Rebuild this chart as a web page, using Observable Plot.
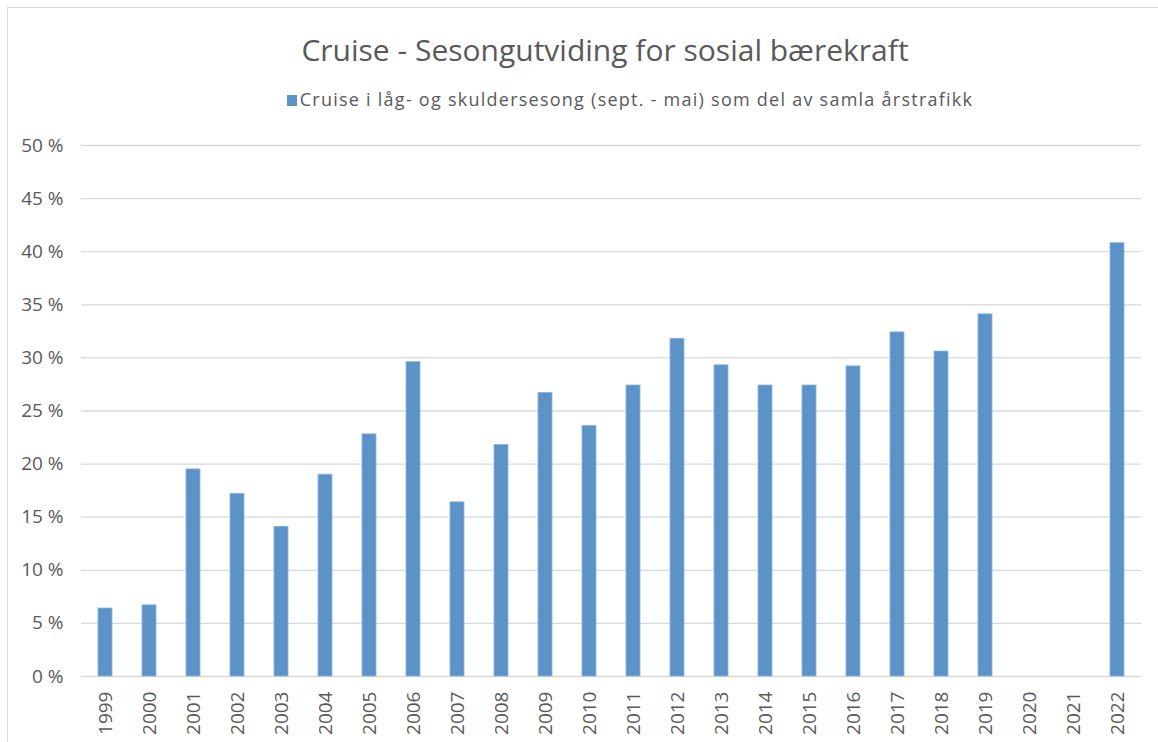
<!DOCTYPE html>
<html><head><meta charset="utf-8">
<script src="https://cdn.jsdelivr.net/npm/d3@7"></script>
<script src="https://cdn.jsdelivr.net/npm/@observablehq/plot@0.6"></script>
<style>
body{margin:0;background:#fff;font-family:"Open Sans",sans-serif;}
#wrap{position:relative;width:1158px;height:742px;overflow:hidden;background:#fff;}
#frame{position:absolute;left:7px;top:7px;width:1170px;height:760px;border-top:1px solid #d9d9d9;border-left:1px solid #d9d9d9;}
#title{position:absolute;top:29px;left:0;width:1210px;text-align:center;font-size:30px;color:#595959;white-space:nowrap;}
#legend{position:absolute;top:87px;left:0;width:1260px;text-align:center;font-size:18px;color:#595959;letter-spacing:1.25px;white-space:nowrap;}
#legend .sw{display:inline-block;width:10px;height:11px;background:#5b93c8;margin-right:3px;vertical-align:0px;}
#chart{position:absolute;left:0;top:120px;}
</style>
</head><body>
<div id="wrap">
<div id="frame"></div>
<div id="title">Cruise - Sesongutviding for sosial bærekraft</div>
<div id="legend"><span class="sw"></span>Cruise i låg- og skuldersesong (sept. - mai) som del av samla årstrafikk</div>
<div id="chart"></div>
</div>
<script>
const years = ["1999","2000","2001","2002","2003","2004","2005","2006","2007","2008","2009","2010","2011","2012","2013","2014","2015","2016","2017","2018","2019","2020","2021","2022"];
const values = [6.4, 6.7, 19.5, 17.2, 14.1, 19.0, 22.8, 29.6, 16.4, 21.8, 26.7, 23.6, 27.4, 31.8, 29.3, 27.4, 27.4, 29.2, 32.4, 30.6, 34.1, null, null, 40.8];
const yTicks = [0,5,10,15,20,25,30,35,40,45,50];

const data = years.map((y,i)=>({year:y, value:values[i]})).filter(d=>d.value!=null);

const chart = Plot.plot({
  width:1158,
  height:622,
  marginTop:25,
  marginBottom:66,
  marginLeft:81,
  marginRight:17,
  style:{fontFamily:"'Open Sans',sans-serif", fontSize:"19px", color:"#595959", background:"transparent"},
  x:{domain:years, paddingInner:0.68, paddingOuter:0.34, label:null, tickSize:0, tickPadding:15, tickRotate:-90},
  y:{domain:[0,50], ticks:yTicks, label:null, tickSize:0, tickPadding:18, tickFormat:d=>d+" %"},
  marks:[
    Plot.ruleY(yTicks,{stroke:"#d9d9d9", strokeWidth:1.3}),
    Plot.barY(data,{x:"year", y:"value", fill:"#5b93c8", stroke:"#8db3dc", strokeWidth:0.8})
  ]
});
document.getElementById("chart").appendChild(chart);
</script>
</body></html>
